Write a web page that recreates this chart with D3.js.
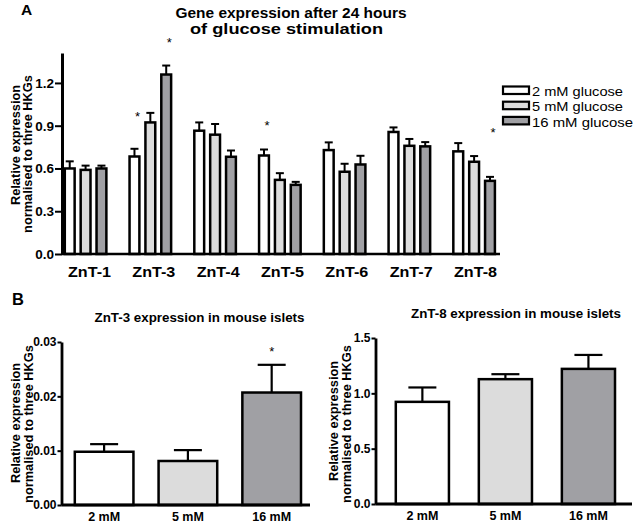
<!DOCTYPE html>
<html><head><meta charset="utf-8">
<script src="https://cdn.jsdelivr.net/npm/d3@7/dist/d3.min.js"></script>
<style>
body{margin:0;background:#fff;}
text{font-family:"Liberation Sans",Arial,sans-serif;}
</style></head>
<body>
<svg id="c" width="636" height="523"></svg>
<script>
// Panel A data
const genes = ["ZnT-1","ZnT-3","ZnT-4","ZnT-5","ZnT-6","ZnT-7","ZnT-8"];
const seriesNames = ["2 mM glucose","5 mM glucose","16 mM glucose"];
const mean2 = [0.60,0.684,0.865,0.691,0.729,0.856,0.72];
const err2  = [0.05,0.054,0.058,0.042,0.054,0.032,0.058];
const mean5 = [0.59,0.923,0.837,0.52,0.577,0.759,0.647];
const err5  = [0.03,0.067,0.075,0.047,0.056,0.048,0.040];
const mean16= [0.60,1.259,0.682,0.485,0.628,0.755,0.513];
const err16 = [0.02,0.063,0.044,0.021,0.061,0.030,0.028];
const starsA = [[1,0,0.99],[1,2,1.51],[3,0,0.926],[6,2,0.877]]; // [gene, series, level]
const ticksA = [0.0,0.3,0.6,0.9,1.2];
// Panel B data
const concB = ["2 mM","5 mM","16 mM"];
const znt3Mean = [0.0098,0.0081,0.0207];
const znt3Err  = [0.0014,0.0020,0.0051];
const znt3Ticks = [0.00,0.01,0.02,0.03];
const znt3Star = [2,0.0289];
const znt8Mean = [0.923,1.128,1.221];
const znt8Err  = [0.130,0.045,0.126];
const znt8Ticks = [0.0,0.5,1.0,1.5];
const fills = ["#ffffff","#dcdcdc","#a0a0a4"];

const svg = d3.select("#c");
const font = "Liberation Sans, Arial, sans-serif";

function fit(sel, w){ return sel.attr("textLength",w).attr("lengthAdjust","spacingAndGlyphs"); }
function star(x, yc, fs){
  svg.append("text").attr("x",x).attr("y",yc+0.62*fs).attr("text-anchor","middle").attr("font-size",fs).text("*");
}
function yLabel(bx1, cy1, bx2, cy2, fs){
  svg.append("text").attr("transform",`translate(${bx1},${cy1}) rotate(-90)`).attr("text-anchor","middle")
    .attr("font-size",fs).attr("font-weight","bold").text("Relative expression");
  svg.append("text").attr("transform",`translate(${bx2},${cy2}) rotate(-90)`).attr("text-anchor","middle")
    .attr("font-size",fs).attr("font-weight","bold").text("normalised to three HKGs");
}

// ---------- Panel A ----------
(function(){
  const x0=62, x1=500, yb=254;
  const y = d3.scaleLinear().domain([0,1.41]).range([yb,53]);
  const xg = d3.scaleBand().domain(genes).range([64.8, 494.9]).paddingInner(0.358).paddingOuter(0);
  const xs = d3.scaleBand().domain([0,1,2]).range([0, xg.bandwidth()]).paddingInner(0.38);
  const means=[mean2,mean5,mean16], errs=[err2,err5,err16];
  const g = svg.append("g");
  genes.forEach((gn,i)=>{
    [0,1,2].forEach(s=>{
      const bx = xg(gn)+xs(s), bw = xs.bandwidth();
      const v = means[s][i], e = errs[s][i];
      const cx = bx+bw/2;
      g.append("line").attr("x1",cx).attr("x2",cx).attr("y1",y(v)).attr("y2",y(v+e)).attr("stroke","#000").attr("stroke-width",2);
      g.append("line").attr("x1",cx-4).attr("x2",cx+4).attr("y1",y(v+e)).attr("y2",y(v+e)).attr("stroke","#000").attr("stroke-width",2);
      g.append("rect").attr("x",bx).attr("y",y(v)).attr("width",bw).attr("height",yb-y(v))
        .attr("fill",fills[s]).attr("stroke","#000").attr("stroke-width",2.5);
    });
  });
  starsA.forEach(([i,s,lv])=>{
    const cx = xg(genes[i])+xs(s)+xs.bandwidth()/2+3;
    star(cx, y(lv), 13);
  });
  // axes
  const ya = svg.append("g").attr("transform",`translate(${x0},0)`)
    .call(d3.axisLeft(y).tickValues(ticksA).tickFormat(d3.format(".1f")).tickSize(7).tickPadding(1).tickSizeOuter(0));
  ya.select(".domain").attr("stroke-width",3);
  ya.selectAll(".tick line").attr("stroke-width",2);
  ya.selectAll("text").attr("font-size",13.5).attr("font-weight","bold").attr("font-family",font);
  const xl = d3.scalePoint().domain(genes).range([89, 475]);
  const xa = svg.append("g").attr("transform",`translate(0,${yb})`)
    .call(d3.axisBottom(xl).tickSize(0).tickSizeOuter(0));
  xa.select(".domain").attr("stroke-width",2.5).attr("d",`M${x0},0H${x1}`);
  xa.selectAll("text").attr("font-size",15.5).attr("font-weight","bold").attr("font-family",font).attr("y",23).attr("dy",0)
    .attr("textLength",43).attr("lengthAdjust","spacingAndGlyphs");
  // titles
  svg.append("text").attr("x",21).attr("y",15).attr("font-size",15.5).attr("font-weight","bold").text("A");
  fit(svg.append("text").attr("x",291).attr("y",18).attr("text-anchor","middle").attr("font-size",15.5).attr("font-weight","bold").text("Gene expression after 24 hours"),231);
  fit(svg.append("text").attr("x",286.5).attr("y",34).attr("text-anchor","middle").attr("font-size",15.5).attr("font-weight","bold").text("of glucose stimulation"),193);
  yLabel(19.5,145,31.8,154,12.8);
  // legend
  const lg = svg.append("g");
  const legW = [91,91,101];
  seriesNames.forEach((n,s)=>{
    const yy = 86.5+s*15.2;
    lg.append("rect").attr("x",503).attr("y",yy).attr("width",26).attr("height",7.5).attr("fill",fills[s]).attr("stroke","#000").attr("stroke-width",2.2);
    fit(lg.append("text").attr("x",532).attr("y",96+s*15.3).attr("font-size",13).text(n), legW[s]);
  });
})();

// ---------- Panel B ----------
function panelB(opt){
  const {ax, axEnd, yb, ytop, domainMax, ticks, fmt, means, errs, bars, pad, title, titleX, titleY, yl, st} = opt;
  const y = d3.scaleLinear().domain([0,domainMax]).range([yb,ytop]);
  const xb = d3.scaleBand().domain(concB).range([bars[0],bars[1]]).paddingInner(pad);
  const g = svg.append("g");
  concB.forEach((c,i)=>{
    const bx=xb(c), bw=xb.bandwidth(), cx=bx+bw/2, v=means[i], e=errs[i];
    g.append("line").attr("x1",cx).attr("x2",cx).attr("y1",y(v)).attr("y2",y(v+e)).attr("stroke","#000").attr("stroke-width",2.2);
    g.append("line").attr("x1",cx-14).attr("x2",cx+14).attr("y1",y(v+e)).attr("y2",y(v+e)).attr("stroke","#000").attr("stroke-width",2.2);
    g.append("rect").attr("x",bx).attr("y",y(v)).attr("width",bw).attr("height",yb-y(v)).attr("fill",fills[i]).attr("stroke","#000").attr("stroke-width",2.5);
    if(st && st[0]===i) star(cx, y(st[1]), 13);
  });
  const ya = svg.append("g").attr("transform",`translate(${ax},0)`)
    .call(d3.axisLeft(y).tickValues(ticks).tickFormat(d3.format(fmt)).tickSize(4).tickPadding(1).tickSizeOuter(0));
  ya.select(".domain").attr("stroke-width",2.8);
  ya.selectAll(".tick line").attr("stroke-width",2);
  ya.selectAll("text").attr("font-size",12).attr("font-weight","bold").attr("font-family",font);
  const xa = svg.append("g").attr("transform",`translate(0,${yb})`).call(d3.axisBottom(xb).tickSize(0).tickSizeOuter(0));
  xa.select(".domain").attr("stroke-width",2.8).attr("d",`M${ax},0H${axEnd}`);
  xa.selectAll("text").attr("font-size",12.5).attr("font-weight","bold").attr("font-family",font).attr("y",16).attr("dy",0);
  fit(svg.append("text").attr("x",titleX).attr("y",titleY).attr("text-anchor","middle").attr("font-size",13.2).attr("font-weight","bold").text(title),210);
  yLabel(yl[0],yl[1],yl[2],yl[3],12.8);
}
svg.append("text").attr("x",12).attr("y",305).attr("font-size",16.5).attr("font-weight","bold").text("B");
panelB({ax:61.5, axEnd:310, yb:505, ytop:342, domainMax:0.03, ticks:znt3Ticks, fmt:".2f",
  means:znt3Mean, errs:znt3Err, bars:[74.8,301], pad:0.3, title:"ZnT-3 expression in mouse islets", titleX:199.5, titleY:322,
  yl:[19.5,423,32.8,424], st:znt3Star});
panelB({ax:375.5, axEnd:632, yb:504, ytop:338, domainMax:1.5, ticks:znt8Ticks, fmt:".1f",
  means:znt8Mean, errs:znt8Err, bars:[395.8,615], pad:0.36, title:"ZnT-8 expression in mouse islets", titleX:516, titleY:318,
  yl:[337.5,421,350.5,424]});
</script>
</body></html>
